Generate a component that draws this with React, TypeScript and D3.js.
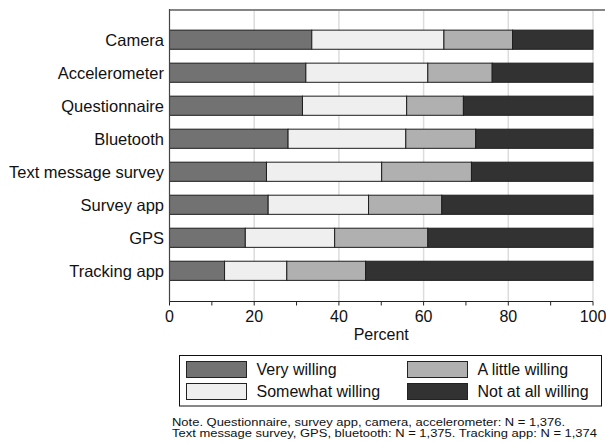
import React from "react";
import * as d3 from "d3";

const categories = [
  "Camera",
  "Accelerometer",
  "Questionnaire",
  "Bluetooth",
  "Text message survey",
  "Survey app",
  "GPS",
  "Tracking app",
];
const seriesNames = ["Very willing", "Somewhat willing", "A little willing", "Not at all willing"];
const veryWilling = [33.6, 32.2, 31.4, 28.0, 22.9, 23.3, 17.9, 13.0];
const somewhatWilling = [31.2, 28.8, 24.6, 27.8, 27.2, 23.7, 21.1, 14.7];
const littleWilling = [16.2, 15.2, 13.4, 16.5, 21.2, 17.3, 22.0, 18.6];
const notWilling = [19.0, 23.8, 30.6, 27.7, 28.7, 35.7, 39.0, 53.7];
const colors = ["#727272", "#efefef", "#b0b0b0", "#323232"];
const xTicks = [0, 20, 40, 60, 80, 100];
const xMinorTicks = [0, 10, 20, 30, 40, 50, 60, 70, 80, 90, 100];
const noteLines = [
  "Note. Questionnaire, survey app, camera, accelerometer: N = 1,376.",
  "Text message survey, GPS, bluetooth: N = 1,375. Tracking app: N = 1,374",
];
const noteWidths = [393, 425];

const FONT = "'Liberation Sans', Arial, Helvetica, sans-serif";

export default function App() {
  const W = 606;
  const H = 443;
  const left = 169.5;
  const right = 593;
  const top = 9;
  const bottom = 301.5;

  const x = d3.scaleLinear().domain([0, 100]).range([left, right]);
  const y = d3
    .scaleBand<string>()
    .domain(categories)
    .range([top, bottom])
    .paddingInner(0.42)
    .paddingOuter(0.64);

  const rows = categories.map((c, i) => ({
    cat: c,
    v0: veryWilling[i],
    v1: somewhatWilling[i],
    v2: littleWilling[i],
    v3: notWilling[i],
  }));
  const stack = d3.stack<any>().keys(["v0", "v1", "v2", "v3"]);
  const stacked = stack(rows);

  const legendItems = [
    { name: seriesNames[0], color: colors[0], col: 0, row: 0 },
    { name: seriesNames[2], color: colors[2], col: 1, row: 0 },
    { name: seriesNames[1], color: colors[1], col: 0, row: 1 },
    { name: seriesNames[3], color: colors[3], col: 1, row: 1 },
  ];

  return (
    <svg
      width={W}
      height={H}
      style={{ position: "absolute", left: 0, top: 0, background: "#fff" }}
      fontFamily={FONT}
    >
      <rect x={0} y={0} width={W} height={H} fill="#fff" />
      {/* gridlines */}
      {xTicks.slice(1).map((t) => (
        <line key={t} x1={x(t)} x2={x(t)} y1={top} y2={bottom} stroke="#dcdcdc" strokeWidth={1.5} />
      ))}
      {/* top border */}
      <line x1={left} x2={605} y1={top + 1} y2={top + 1} stroke="#858585" strokeWidth={2} />
      {/* bars */}
      {stacked.map((s, si) =>
        s.map((d, i) => (
          <rect
            key={si + "-" + i}
            x={x(d[0])}
            y={y(categories[i])}
            width={x(d[1]) - x(d[0])}
            height={y.bandwidth()}
            fill={colors[si]}
            stroke="#1e1e1e"
            strokeWidth={1}
          />
        ))
      )}
      {/* axes */}
      <line x1={left} x2={left} y1={top} y2={bottom} stroke="#444" strokeWidth={1.2} />
      <line x1={left} x2={right} y1={bottom} y2={bottom} stroke="#222" strokeWidth={1.2} />
      {xMinorTicks.map((t) => (
        <line key={t} x1={x(t)} x2={x(t)} y1={bottom} y2={bottom + 4} stroke="#222" strokeWidth={1} />
      ))}
      {xTicks.map((t) => (
        <text key={t} x={x(t)} y={321.5} textAnchor="middle" fontSize={16} fill="#111">
          {t}
        </text>
      ))}
      <text x={(left + right) / 2} y={339.5} textAnchor="middle" fontSize={16} fill="#111">
        Percent
      </text>
      {categories.map((c) => (
        <text
          key={c}
          x={164}
          y={(y(c) as number) + y.bandwidth() / 2 + 5.8}
          textAnchor="end"
          fontSize={16.5}
          fill="#111"
        >
          {c}
        </text>
      ))}
      {/* legend */}
      <rect x={179.5} y={355.5} width={422} height={50.5} fill="#fff" stroke="#111" strokeWidth={1} />
      {legendItems.map((it) => {
        const sx = it.col === 0 ? 186.5 : 407.5;
        const sy = it.row === 0 ? 361.5 : 383.5;
        return (
          <g key={it.name}>
            <rect x={sx} y={sy} width={60} height={16} fill={it.color} stroke="#222" strokeWidth={1} />
            <text x={sx + 70} y={sy + 13.5} fontSize={16} fill="#111">
              {it.name}
            </text>
          </g>
        );
      })}
      {noteLines.map((l, i) => (
        <text
          key={i}
          x={172}
          y={425.5 + i * 11}
          fontSize={11.3}
          fill="#111"
          textLength={noteWidths[i]}
          lengthAdjust="spacingAndGlyphs"
        >
          {l}
        </text>
      ))}
    </svg>
  );
}
